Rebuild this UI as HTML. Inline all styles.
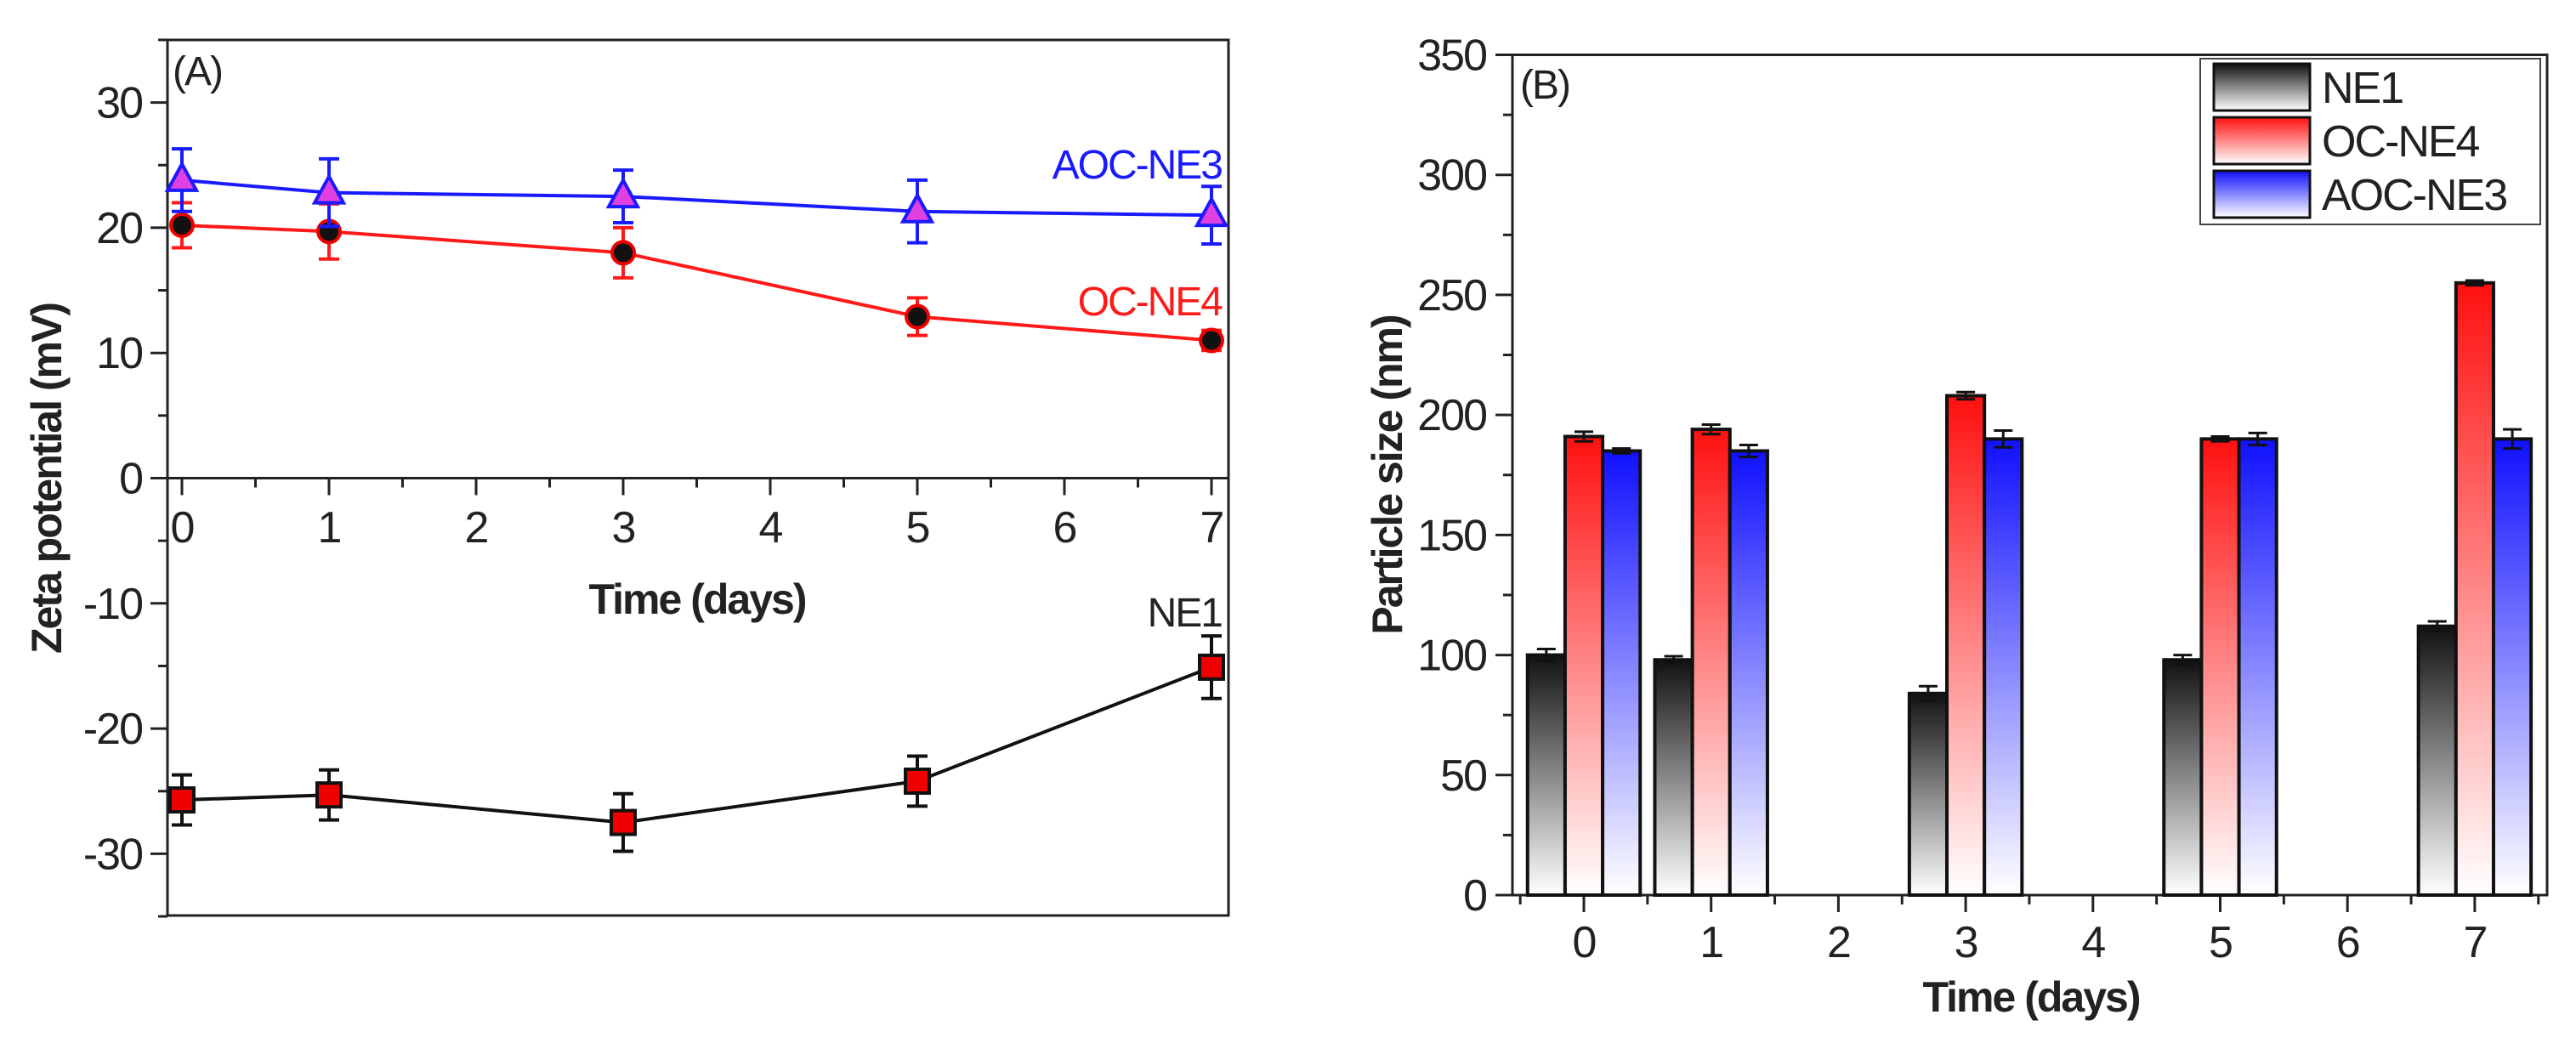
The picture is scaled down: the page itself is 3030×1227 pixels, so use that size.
<!DOCTYPE html>
<html><head><meta charset="utf-8"><style>
html,body{margin:0;padding:0;background:#fff;}
svg{display:block;font-family:"Liberation Sans",Arial,sans-serif;}
text{letter-spacing:-2px;}
</style></head><body>
<svg id="fig" width="3030" height="1227" viewBox="0 0 3030 1227" xmlns="http://www.w3.org/2000/svg">
<defs>
<linearGradient id="gK" x1="0" y1="0" x2="0" y2="1"><stop offset="0" stop-color="#111"/><stop offset="1" stop-color="#fff"/></linearGradient>
<linearGradient id="gR" x1="0" y1="0" x2="0" y2="1"><stop offset="0" stop-color="#ff1010"/><stop offset="1" stop-color="#fff"/></linearGradient>
<linearGradient id="gB" x1="0" y1="0" x2="0" y2="1"><stop offset="0" stop-color="#1010ff"/><stop offset="1" stop-color="#fff"/></linearGradient>
</defs>
<g id="pa"></g>
<g id="pb"></g>
</svg>
<script>
// Panel A data
const daysA = [0, 1, 3, 5, 7];
const aocZeta = [23.8, 22.8, 22.5, 21.3, 21.0];
const aocZetaErr = [2.5, 2.7, 2.1, 2.5, 2.3];
const ocZeta = [20.2, 19.7, 18.0, 12.9, 11.0];
const ocZetaErr = [1.8, 2.2, 2.0, 1.5, 0.8];
const ne1Zeta = [-25.7, -25.3, -27.5, -24.2, -15.1];
const ne1ZetaErr = [2.0, 2.0, 2.3, 2.0, 2.5];
const yTicksA = [-30, -20, -10, 0, 10, 20, 30];
const xTicksA = [0, 1, 2, 3, 4, 5, 6, 7];
// Panel B data
const daysB = [0, 1, 3, 5, 7];
const ne1Size = [100, 98, 84, 98, 112];
const ne1SizeErr = [2.5, 1.5, 3, 2, 2];
const ocSize = [191, 194, 208, 190, 255];
const ocSizeErr = [2, 2, 1.5, 1, 1];
const aocSize = [185, 185, 190, 190, 190];
const aocSizeErr = [1, 2.5, 3.5, 2.5, 4];
const yTicksB = [0, 50, 100, 150, 200, 250, 300, 350];
const xTicksB = [0, 1, 2, 3, 4, 5, 6, 7];

const NS = "http://www.w3.org/2000/svg";
function mk(parent, tag, attrs, text) {
  const e = document.createElementNS(NS, tag);
  for (const k in attrs) e.setAttribute(k, attrs[k]);
  if (text !== undefined) e.textContent = text;
  parent.appendChild(e);
  return e;
}

// ---------- Panel A ----------
const pa = document.getElementById('pa');
const AL = 197, AR = 1445, AT = 47, AB = 1077;
const ax = d => 214 + d * 173;
const ay = v => 562.5 - v * 14.73;
let e;
e = mk(pa, 'rect', {x: AL, y: AT, width: AR - AL, height: AB - AT, fill: 'none', stroke: '#222', 'stroke-width': 3});


for (let v = -35; v <= 35; v += 5) {
  const major = v % 10 === 0;
  e = mk(pa, 'line', {x1: AL - (major ? 20 : 11), x2: AL, y1: ay(v), y2: ay(v), stroke: '#222', 'stroke-width': 3});
  
  
}
yTicksA.forEach(v => {
  e = mk(pa, 'text', {x: 167, y: ay(v) + 18, 'font-size': 52, 'text-anchor': 'end', fill: '#222'}, String(v));
  
  
});
e = mk(pa, 'line', {x1: AL, x2: AR, y1: ay(0), y2: ay(0), stroke: '#222', 'stroke-width': 3});


for (let d = 0; d <= 7; d += 0.5) {
  const major = d % 1 === 0;
  e = mk(pa, 'line', {x1: ax(d), x2: ax(d), y1: ay(0), y2: ay(0) + (major ? 20 : 11), stroke: '#222', 'stroke-width': 3});
  
  
}
xTicksA.forEach(d => {
  e = mk(pa, 'text', {x: ax(d), y: 638, 'font-size': 52, 'text-anchor': 'middle', fill: '#222'}, String(d));
  
  
});
e = mk(pa, 'text', {x: 820, y: 722, 'font-size': 50, 'font-weight': 'bold', 'text-anchor': 'middle', fill: '#222'}, 'Time (days)');


e = mk(pa, 'text', {x: 0, y: 0, 'font-size': 50, 'font-weight': 'bold', 'text-anchor': 'middle', fill: '#222', transform: 'translate(72,563) rotate(-90)'}, 'Zeta potential (mV)');


e = mk(pa, 'text', {x: 203, y: 100, 'font-size': 48, fill: '#222'}, '(A)');



function series(vals, errs, color, errColor, marker, name) {
  const g = mk(pa, 'g', {});
  
  
  e = mk(g, 'polyline', {points: daysA.map((d, i) => ax(d) + ',' + ay(vals[i])).join(' '), fill: 'none', stroke: color, 'stroke-width': 4});
  
  
  daysA.forEach((d, i) => {
    const x = ax(d), y1 = ay(vals[i] + errs[i]), y2 = ay(vals[i] - errs[i]);
    e = mk(g, 'path', {d: `M${x},${y1}V${y2}M${x - 12},${y1}H${x + 12}M${x - 12},${y2}H${x + 12}`, stroke: errColor, 'stroke-width': 4, fill: 'none'});
    
    
    const y = ay(vals[i]);
    if (marker === 'tri') {
      e = mk(g, 'polygon', {points: `${x},${y - 19} ${x - 17},${y + 12} ${x + 17},${y + 12}`, fill: '#e040e0', stroke: '#1a1aff', 'stroke-width': 4});
    } else if (marker === 'circ') {
      e = mk(g, 'circle', {cx: x, cy: y, r: 13, fill: '#111', stroke: '#e00', 'stroke-width': 4});
    } else {
      e = mk(g, 'rect', {x: x - 14, y: y - 14, width: 28, height: 28, fill: '#e00', stroke: '#111', 'stroke-width': 4});
    }
    
    
  });
}
series(ocZeta, ocZetaErr, '#ff1a1a', '#ff1a1a', 'circ', 'oc-ne4');
series(aocZeta, aocZetaErr, '#1a1aff', '#1a1aff', 'tri', 'aoc-ne3');
series(ne1Zeta, ne1ZetaErr, '#111', '#111', 'sq', 'ne1');
e = mk(pa, 'text', {x: 1437, y: 210, 'font-size': 48, 'text-anchor': 'end', fill: '#1a1aff'}, 'AOC-NE3');


e = mk(pa, 'text', {x: 1437, y: 371, 'font-size': 48, 'text-anchor': 'end', fill: '#ff1a1a'}, 'OC-NE4');


e = mk(pa, 'text', {x: 1437, y: 737, 'font-size': 48, 'text-anchor': 'end', fill: '#222'}, 'NE1');



// ---------- Panel B ----------
const pb = document.getElementById('pb');
const BL = 1779, BR = 2996, BT = 64.5, BB = 1053;
const bx = d => 1863 + d * 149.7;
const by = v => BB - v * (BB - BT) / 350;
e = mk(pb, 'rect', {x: BL, y: BT, width: BR - BL, height: BB - BT, fill: 'none', stroke: '#222', 'stroke-width': 3});


for (let v = 0; v <= 350; v += 25) {
  const major = v % 50 === 0;
  e = mk(pb, 'line', {x1: BL - (major ? 20 : 11), x2: BL, y1: by(v), y2: by(v), stroke: '#222', 'stroke-width': 3});
  
  
}
yTicksB.forEach(v => {
  e = mk(pb, 'text', {x: 1748, y: by(v) + 18, 'font-size': 52, 'text-anchor': 'end', fill: '#222'}, String(v));
  
  
});
for (let d = -0.5; d <= 7.5; d += 0.5) {
  const major = d % 1 === 0;
  e = mk(pb, 'line', {x1: bx(d), x2: bx(d), y1: BB, y2: BB + (major ? 20 : 11), stroke: '#222', 'stroke-width': 3});
  
  
}
xTicksB.forEach(d => {
  e = mk(pb, 'text', {x: bx(d), y: 1126, 'font-size': 52, 'text-anchor': 'middle', fill: '#222'}, String(d));
  
  
});
e = mk(pb, 'text', {x: 2389, y: 1190, 'font-size': 50, 'font-weight': 'bold', 'text-anchor': 'middle', fill: '#222'}, 'Time (days)');


e = mk(pb, 'text', {x: 0, y: 0, 'font-size': 50, 'font-weight': 'bold', 'text-anchor': 'middle', fill: '#222', transform: 'translate(1649,559) rotate(-90)'}, 'Particle size (nm)');


e = mk(pb, 'text', {x: 1788, y: 116, 'font-size': 48, fill: '#222'}, '(B)');



const bw = 0.295;
function bars(vals, errs, off, fill, name) {
  daysB.forEach((d, i) => {
    const cx = bx(d + off), w = bw * 149.7, yt = by(vals[i]);
    e = mk(pb, 'rect', {x: cx - w / 2, y: yt, width: w, height: BB - yt, fill: fill, stroke: '#111', 'stroke-width': 4});
    
    
    const y1 = by(vals[i] + errs[i]), y2 = by(vals[i] - errs[i]);
    e = mk(pb, 'path', {d: `M${cx},${y1}V${y2}M${cx - 11},${y1}H${cx + 11}M${cx - 11},${y2}H${cx + 11}`, stroke: '#111', 'stroke-width': 3, fill: 'none'});
    
    
  });
}
bars(ne1Size, ne1SizeErr, -bw, 'url(#gK)', 'ne1');
bars(ocSize, ocSizeErr, 0, 'url(#gR)', 'oc-ne4');
bars(aocSize, aocSizeErr, bw, 'url(#gB)', 'aoc-ne3');

const lg = mk(pb, 'g', {});


e = mk(lg, 'rect', {x: 2588, y: 69, width: 400, height: 195, fill: '#fff', stroke: '#444', 'stroke-width': 2});


const legNames = ['NE1', 'OC-NE4', 'AOC-NE3'];
const legFills = ['url(#gK)', 'url(#gR)', 'url(#gB)'];
legNames.forEach((n, i) => {
  const y = 75 + i * 63;
  e = mk(lg, 'rect', {x: 2604, y: y, width: 113, height: 55, fill: legFills[i], stroke: '#111', 'stroke-width': 3});
  
  
  e = mk(lg, 'text', {x: 2731, y: y + 46, 'font-size': 52, fill: '#222'}, n);
  
  
});
</script>
</body></html>
